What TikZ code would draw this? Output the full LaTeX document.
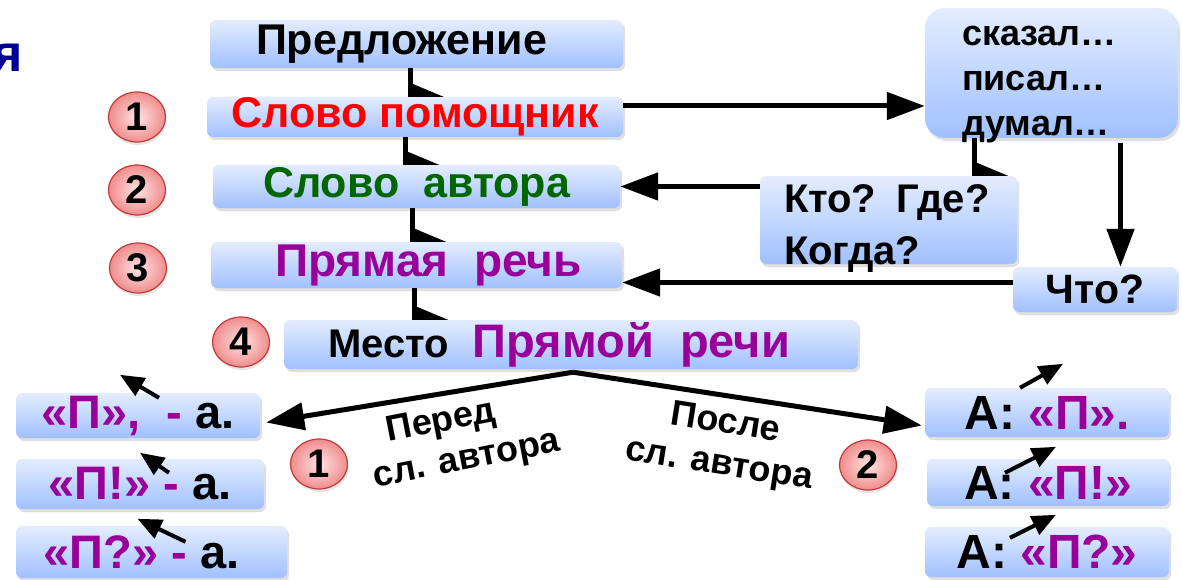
\documentclass[tikz,border=0pt]{standalone}
\usepackage{fontspec}
\setmainfont{Liberation Sans}
\usetikzlibrary{positioning, calc, shapes.geometric, shadows, arrows.meta}
\definecolor{boxtop}{RGB}{228,237,255}
\definecolor{boxbot}{RGB}{160,192,255}
\definecolor{speechpurple}{RGB}{153,0,153}
\definecolor{helpred}{RGB}{255,0,0}
\definecolor{authgreen}{RGB}{0,102,0}
\definecolor{titleblue}{RGB}{0,0,150}
\definecolor{ballin}{RGB}{255,228,228}
\definecolor{ballout}{RGB}{240,140,140}
\definecolor{ballrim}{RGB}{190,60,60}

\begin{document}
\begin{tikzpicture}[x=1pt, y=-1pt,
      bluebox/.style={rectangle, rounded corners=6pt, top color=boxtop, bottom color=boxbot, draw=none, inner sep=0pt,
        drop shadow={shadow xshift=2pt, shadow yshift=-3pt, opacity=0.25}, font=\bfseries\fontsize{43}{48}\selectfont},
      numball/.style={ellipse, minimum width=57pt, minimum height=50pt, inner sep=0pt, inner color=ballin, outer color=ballout,
        draw=ballrim, line width=1.2pt, drop shadow={shadow xshift=1pt, shadow yshift=-3pt, opacity=0.2}, font=\bfseries\fontsize{40}{40}\selectfont},
      stem/.style={line width=5pt},
      bigarrow/.style={line width=5pt, -{Triangle[length=38pt, width=27pt]}},
      smallarrow/.style={line width=4pt, -{Triangle[length=24pt, width=20pt]}},
      lbl/.style={font=\bfseries\fontsize{36}{42}\selectfont, align=center, inner sep=0pt},
      ]
      \useasboundingbox (0,0) rectangle (1182,580);
      \fill[white] (0,0) rectangle (1182,580);

      %Title end
      \node[anchor=base east, inner sep=0pt, text=titleblue, font=\bfseries\fontsize{52}{52}\selectfont] (title) at (23,72) {я};

      %Left column
      \node[bluebox, minimum width=413pt, minimum height=48pt] (pred)  at (416.5,44)  {Предложение\hspace*{30pt}};
      \node[bluebox, minimum width=416pt, minimum height=40pt, text=helpred] (help) at (415,117) {Слово помощник};
      \node[bluebox, minimum width=407pt, minimum height=43pt, text=authgreen] (auth) at (416.5,186.5) {Слово\ \ автора};
      \node[bluebox, minimum width=411pt, minimum height=46pt, text=speechpurple, font=\bfseries\fontsize{46}{50}\selectfont] (pr) at (416.5,265)
        {\hspace*{24pt}Прямая\ \ речь};
      \node[bluebox, minimum width=574pt, minimum height=49pt] (place) at (571,344.5)
        {{\fontsize{40}{44}\selectfont Место}\ \ {\color{speechpurple}\fontsize{47}{50}\selectfont Прямой\ \ речи}\hspace*{24pt}};

      %Right column
      \node[bluebox, rounded corners=20pt, minimum height=130pt, text width=179pt, inner xsep=37pt, align=left,
        text height=36pt, text depth=90pt, font=\bfseries\fontsize{36}{45}\selectfont] (said) at (1051.5,73) {сказал…\\писал…\\думал…};
      \node[bluebox, minimum height=88pt, text width=209pt, inner xsep=24pt, align=left,
        text height=32pt, text depth=48pt, font=\bfseries\fontsize{40}{52}\selectfont] (who) at (888.5,220) {Кто? Где?\\Когда?};
      \node[bluebox, minimum width=164pt, minimum height=45pt, font=\bfseries\fontsize{41}{44}\selectfont] (what) at (1095,289.5) {Что?};

      %Bottom boxes
      \node[bluebox, minimum width=244pt, minimum height=45pt, font=\bfseries\fontsize{47}{50}\selectfont] (L1) at (138,415.5)
        {{\color{speechpurple}«П»,\ \ -} а.};
      \node[bluebox, minimum width=248pt, minimum height=50pt, font=\bfseries\fontsize{47}{50}\selectfont] (L2) at (140,484)
        {{\color{speechpurple}«П!» -} а.};
      \node[bluebox, minimum width=271pt, minimum height=52pt, font=\bfseries\fontsize{47}{50}\selectfont] (L3) at (151.5,552)
        {{\color{speechpurple}«П?» -} а.\hspace*{20pt}};
      \node[bluebox, minimum width=244pt, minimum height=49pt, font=\bfseries\fontsize{48}{50}\selectfont] (R1) at (1047,412.5)
        {А: {\color{speechpurple}«П».}};
      \node[bluebox, minimum width=242pt, minimum height=47pt, font=\bfseries\fontsize{48}{50}\selectfont] (R2) at (1048,482.5)
        {А: {\color{speechpurple}«П!»}};
      \node[bluebox, minimum width=244pt, minimum height=50pt, font=\bfseries\fontsize{48}{50}\selectfont] (R3) at (1047,552)
        {А: {\color{speechpurple}«П?»}};

      %Numbers
      \node[numball] (n1) at (137,117) {1};
      \node[numball] (n2) at (137,190) {2};
      \node[numball] (n3) at (138,268) {3};
      \node[numball] (n4) at (241,342) {4};
      \node[numball] (n5) at (319,464) {1};
      \node[numball] (n6) at (868,465) {2};

      %Stems
      \foreach \from/\to/\dx in {pred/help/-6.5, help/auth/-9.5, auth/pr/-4, pr/place/-2, said/who/-77}{
        \coordinate (top) at ($(\from.south)+(\dx,0)$);
        \draw[stem] (top) -- (top |- \to.north);
        \fill (top |- \to.north) ++(2.5,0) -- ++(0,-13) -- ++(31,13) -- cycle;
      }

      %Arrows
      \draw[bigarrow] ($(help.east)+(0,-11)$) coordinate (h) -- (h -| said.west);
      \draw[bigarrow] (who.west |- auth.east) -- (auth.east);
      \draw[bigarrow] ($(what.west)+(0,-7)$) coordinate (w) -- (w -| pr.east);
      \draw[bigarrow] ($(said.south)+(69,5)$) coordinate (d) -- (d |- what.north);
      \draw[bigarrow] ($(place.south)+(2,3)$) -- ($(L1.east)+(6,7)$);
      \draw[bigarrow] ($(place.south)+(2,3)$) -- ($(R1.west)+(-3,13)$);

      %Labels
      \node[lbl, rotate=11] (before) at (463,440) {Перед\hspace*{36pt}\\сл. автора};
      \node[lbl, rotate=-9] (after) at (722,445) {После\\сл. автора};

      %Small arrows
      \draw[smallarrow] ($(L1.north)+(21,5)$) -- ($(L1.north)+(-18,-18)$);
      \draw[smallarrow] ($(L2.north)+(29,14)$) -- ($(L2.north)+(0,-6)$);
      \draw[smallarrow] ($(L3.north)+(34,16)$) -- ($(L3.north)+(-14,-7)$);
      \draw[smallarrow] ($(R1.north)+(-27,0)$) -- ($(R1.north)+(16,-24)$);
      \draw[smallarrow] ($(R2.north)+(-43,14)$) -- ($(R2.north)+(8,-12)$);
      \draw[smallarrow] ($(R3.north)+(-37,11)$) -- ($(R3.north)+(9,-12)$);
    \end{tikzpicture}
\end{document}
